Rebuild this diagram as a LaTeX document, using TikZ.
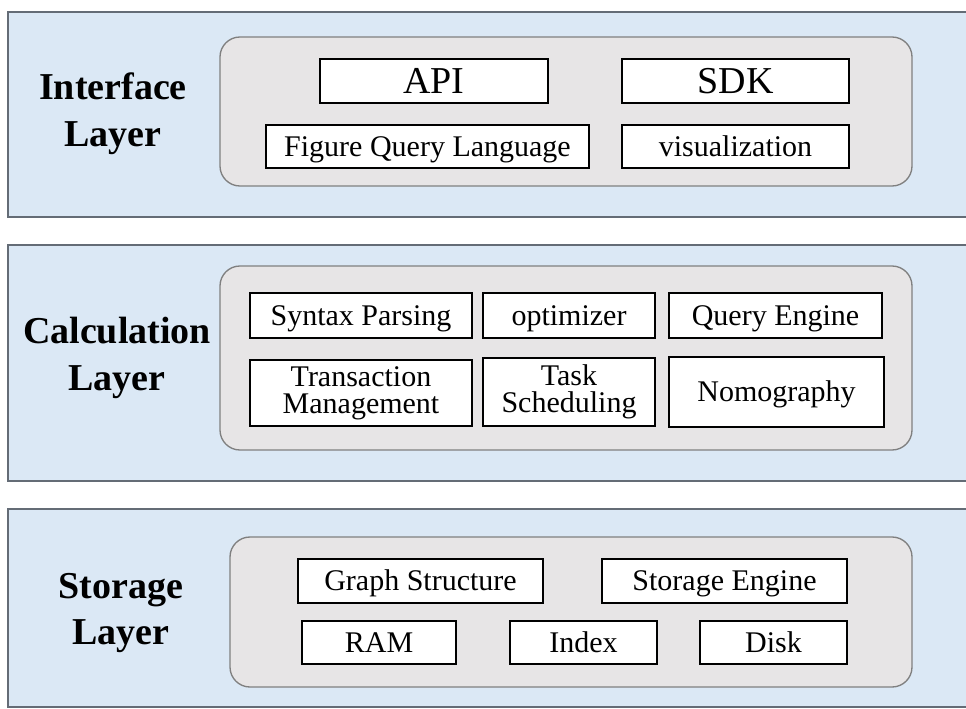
\documentclass[tikz,border=0pt]{standalone}
\usepackage{xcolor}
\usepackage{fontspec}
\setmainfont{Liberation Serif}
\usepackage{tikz}

\definecolor{layerblue}{RGB}{219,232,245}
\definecolor{layerline}{RGB}{100,108,118}
\definecolor{groupgray}{RGB}{231,229,230}
\definecolor{groupline}{RGB}{128,128,128}

\tikzset{
  layerbox/.style={draw=layerline, fill=layerblue, line width=1pt},
  groupbox/.style={draw=groupline, fill=groupgray, line width=1pt, rounded corners=15pt},
  layertitle/.style={align=center, inner sep=0.75pt, font=\fontsize{28.5}{35}\selectfont\bfseries},
  itembox/.style={draw=black, fill=white, line width=2pt, align=center, inner sep=0.75pt,
    font=\fontsize{22.5}{20.5}\selectfont},
  oneline/.style={itembox, text height=14.9pt, text depth=0pt},
  bigitem/.style={itembox, text height=18.8pt, text depth=0pt, font=\fontsize{28.5}{30}\selectfont}
}

\begin{document}
\begin{tikzpicture}[x=0.75pt,y=0.75pt,yscale=-1,xscale=1]
\useasboundingbox (0,0) rectangle (966,709);

%Shape: Rectangle (layer backgrounds)
\draw [layerbox] (8,12) rectangle (975,217);
\draw [layerbox] (8,245) rectangle (975,481);
\draw [layerbox] (8,509) rectangle (975,707);

%Shape: Rounded Rect (component groups)
\draw [groupbox] (220,37) rectangle (912,186);
\draw [groupbox] (220,266) rectangle (912,450);
\draw [groupbox] (230,537) rectangle (912,687);

% Text Node
\node [layertitle] (ifcname) at (113,114) {Interface\\Layer};
% Text Node
\node [layertitle] (calcname) at (117,358) {Calculation\\Layer};
% Text Node
\node [layertitle] (storname) at (121,613) {Storage\\Layer};

% interface layer
\node [bigitem, minimum width=171pt, minimum height=33pt] (api) at (434,81) {API};
\node [bigitem, minimum width=170.25pt, minimum height=33pt] (sdk) at (735.5,81) {SDK};
\node [oneline, minimum width=242.25pt, minimum height=32.25pt] (fql) at (427.5,146.5) {Figure Query Language};
\node [oneline, minimum width=170.25pt, minimum height=32.25pt] (visual) at (735.5,146.5) {visualization};

% calculation layer
\node [oneline, minimum width=166.5pt, minimum height=33.75pt] (syntax) at (361,315.5) {Syntax Parsing};
\node [oneline, minimum width=129pt, minimum height=33.75pt] (optim) at (569,315.5) {optimizer};
\node [oneline, minimum width=159.75pt, minimum height=33.75pt] (qengine) at (775.5,315.5) {Query Engine};
\node [itembox, minimum width=166.5pt, minimum height=49.5pt] (transact) at (361,393) {Transaction\\Management};
\node [itembox, minimum width=129pt, minimum height=51pt] (tasksched) at (569,392) {Task\\Scheduling};
\node [oneline, minimum width=161.25pt, minimum height=52.5pt] (nomo) at (776.5,392) {Nomography};

% storage layer
\node [oneline, minimum width=183.75pt, minimum height=33pt] (graphst) at (420.5,581) {Graph Structure};
\node [oneline, minimum width=183.75pt, minimum height=33pt] (sengine) at (724.5,581) {Storage Engine};
\node [oneline, minimum width=115.5pt, minimum height=32.25pt] (ram) at (379,642.5) {RAM};
\node [oneline, minimum width=110.25pt, minimum height=32.25pt] (index) at (583.5,642.5) {Index};
\node [oneline, minimum width=110.25pt, minimum height=32.25pt] (disk) at (773.5,642.5) {Disk};

\end{tikzpicture}
\end{document}
